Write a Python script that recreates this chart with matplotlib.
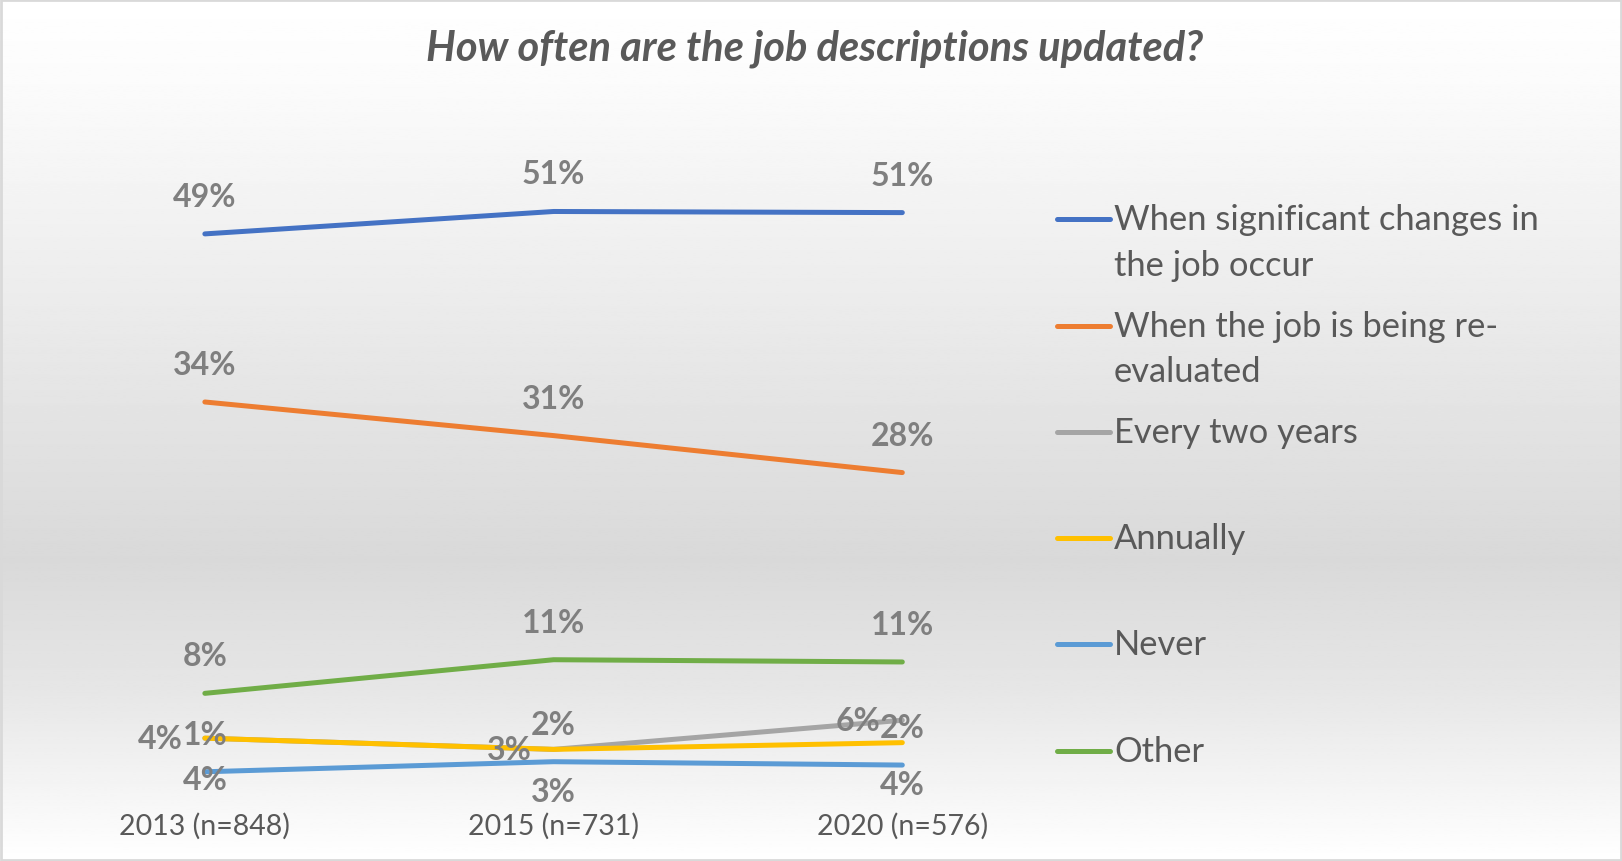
import numpy as np
import matplotlib.pyplot as plt
from matplotlib.lines import Line2D

plt.rcParams['font.family'] = ['Lato', 'DejaVu Sans']

# Survey results (% of respondents)
years = ["2013 (n=848)", "2015 (n=731)", "2020 (n=576)"]
significant = [49.0, 51.0, 50.9]
re_evaluated = [34.0, 31.0, 27.7]
two_years = [4.0, 3.0, 5.6]
annually = [4.0, 3.0, 3.6]
never = [1.0, 1.9, 1.6]
other = [8.0, 11.0, 10.8]

names = ["When significant changes in\nthe job occur",
         "When the job is being re-\nevaluated",
         "Every two years", "Annually", "Never", "Other"]
colors = ["#4472C4", "#ED7D31", "#A5A5A5", "#FFC000", "#5B9BD5", "#70AD47"]
# where each series puts its value labels
label_pos = ["above", "above", "left", "below", "above", "above"]
offsets = {"above": (0, 27), "below": (0, -30), "left": (-32, 0)}

fig = plt.figure(figsize=(16.22, 8.62), dpi=100)

# grey gradient behind the chart
bg = fig.add_axes([0, 0, 1, 1], zorder=0)
stops = [0.0, 0.1, 0.65, 0.8, 1.0]
shades = [255, 251, 217, 230, 255]
grad = np.interp(np.linspace(0, 1, 400), stops, shades) / 255.0
bg.imshow(np.repeat(grad[:, None], 2, axis=1), cmap="gray", vmin=0, vmax=1,
          aspect="auto", extent=[0, 1, 0, 1])
bg.set_xlim(0, 1)
bg.set_ylim(0, 1)
bg.axis("off")
bg.add_patch(plt.Rectangle((0.0008, 0.0015), 0.9984, 0.997, fill=False,
                           edgecolor="#D9D9D9", linewidth=2))

ax = fig.add_axes([0.0188, 0.0905, 0.645, 0.78], zorder=1)
ax.set_facecolor("none")

x = np.arange(len(years))
all_series = [significant, re_evaluated, two_years, annually, never, other]
for vals, col in zip(all_series, colors):
    ax.plot(x, vals, color=col, linewidth=3.6, solid_capstyle="round")

for vals, pos in zip(all_series, label_pos):
    for xi, v in zip(x, vals):
        ax.annotate(f"{v:.0f}%", (xi, v), xytext=offsets[pos],
                    textcoords="offset points", ha="center", va="center",
                    fontsize=23, fontweight="bold", color="#7F7F7F")

ax.set_xlim(-0.5, 2.5)
ax.set_ylim(0, 60)
ax.set_xticks(x)
ax.set_xticklabels(years, fontsize=20.5, color="#595959")
ax.tick_params(axis="x", length=0, pad=21)
ax.set_yticks([])
for s in ax.spines.values():
    s.set_visible(False)

fig.text(0.502, 0.943, "How often are the job descriptions updated?",
         ha="center", va="center", fontsize=30, fontweight="bold",
         style="italic", color="#595959")

# legend drawn by hand so wrapped names keep the handle on the first line
leg_y = [220, 327, 433, 539, 645, 752]
for name, col, yp in zip(names, colors, leg_y):
    fy = 1 - yp / 862
    fig.add_artist(Line2D([1057 / 1622, 1110 / 1622], [fy, fy], color=col,
                          linewidth=3.6, solid_capstyle="round"))
    for k, line in enumerate(name.split("\n")):
        fig.text(1114 / 1622, fy - k * 45.5 / 862, line, ha="left",
                 va="center", fontsize=24.8, color="#595959")

fig.savefig("out.png", dpi=100)
